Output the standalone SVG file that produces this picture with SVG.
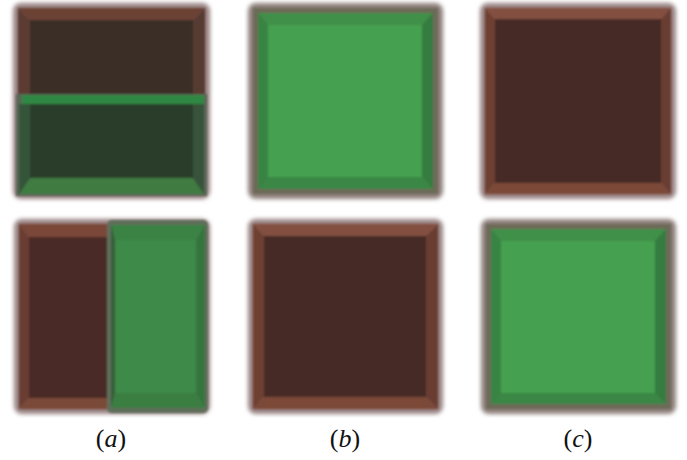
<svg xmlns="http://www.w3.org/2000/svg" width="687" height="460" viewBox="0 0 687 460">
<defs>
<filter id="halo" x="-10%" y="-10%" width="120%" height="120%"><feGaussianBlur stdDeviation="2.2"/></filter>
<filter id="soft" x="-5%" y="-5%" width="110%" height="110%"><feGaussianBlur stdDeviation="1.1"/></filter>
</defs>
<style>
.lbl{font-family:"Liberation Serif","Times New Roman",serif;font-size:26px;fill:#111;text-anchor:middle}
.it{font-style:italic}
.h{filter:url(#halo)}
</style>
<rect width="687" height="460" fill="#fff"/>

<!-- (a) top -->
<g id="a-top">
<rect class="h" x="13" y="3" width="197" height="196" rx="8" fill="#978181"/>
<g filter="url(#soft)">
<polygon points="18,8 205,8 193,20 30,20" fill="#6c4234"/>
<polygon points="18,8 30,20 30,100 18,100" fill="#5b3a30"/>
<polygon points="205,8 193,20 193,100 205,100" fill="#573a30"/>
<rect x="30" y="20" width="163" height="80" fill="#3a2d26"/>
<rect x="16" y="94" width="191" height="102" fill="#5a6656"/>
<polygon points="19,104 204,104 204,194 19,194" fill="#3d5a3a"/>
<polygon points="19,194 204,194 193,178 30,178" fill="#3f7c42"/>
<polygon points="19,104 30,104 30,178 19,194" fill="#36543a"/>
<polygon points="204,104 193,104 193,178 204,194" fill="#37533b"/>
<rect x="30" y="104" width="163" height="74" fill="#2a3d29"/>
<rect x="22" y="95" width="182" height="9" fill="#2f8742"/>
</g>
</g>

<!-- (a) bottom -->
<g id="a-bottom">
<rect class="h" x="14" y="219" width="196" height="195" rx="8" fill="#978181"/>
<g filter="url(#soft)">
<polygon points="19,224 110,224 110,237 29,237" fill="#7a4637"/>
<polygon points="19,224 29,237 29,398 19,409" fill="#6a3d31"/>
<polygon points="19,409 110,409 110,398 29,398" fill="#7a4838"/>
<rect x="29" y="237" width="81" height="161" fill="#4a2c25"/>
<rect x="107" y="220" width="101" height="193" rx="5" fill="#5f6e5a"/>
<polygon points="111,225 205,225 196,240 115,240" fill="#3b8244"/>
<polygon points="111,225 115,240 115,393 111,408" fill="#345e37"/>
<polygon points="205,225 196,240 196,393 205,408" fill="#35743e"/>
<polygon points="111,408 205,408 196,393 115,393" fill="#3a7e43"/>
<rect x="115" y="240" width="81" height="153" fill="#3d8a49"/>
</g>
</g>

<!-- (b) top -->
<g id="b-top">
<rect class="h" x="248" y="3" width="195" height="196" rx="8" fill="#8d7f7a"/>
<g filter="url(#soft)">
<rect x="253" y="8" width="185" height="186" fill="#6d6a58"/>
<polygon points="258,13 433,13 422,25 268,25" fill="#3f9048"/>
<polygon points="258,13 268,25 268,177 258,189" fill="#388443"/>
<polygon points="433,13 422,25 422,177 433,189" fill="#347c40"/>
<polygon points="258,189 433,189 422,177 268,177" fill="#3a8745"/>
<rect x="268" y="25" width="154" height="152" fill="#44a050"/>
</g>
</g>

<!-- (b) bottom -->
<g id="b-bottom">
<rect class="h" x="248" y="219" width="195" height="195" rx="8" fill="#978181"/>
<g filter="url(#soft)">
<polygon points="253,224 438,224 426,236 264,236" fill="#83503f"/>
<polygon points="253,224 264,236 264,397 253,409" fill="#6e3f32"/>
<polygon points="438,224 426,236 426,397 438,409" fill="#693c30"/>
<polygon points="253,409 438,409 426,397 264,397" fill="#7b4838"/>
<rect x="264" y="236" width="162" height="161" fill="#452b25"/>
</g>
</g>

<!-- (c) top -->
<g id="c-top">
<rect class="h" x="480" y="3" width="196" height="196" rx="8" fill="#978181"/>
<g filter="url(#soft)">
<polygon points="485,8 671,8 661,19 495,19" fill="#83503f"/>
<polygon points="485,8 495,19 495,183 485,194" fill="#6e3f32"/>
<polygon points="671,8 661,19 661,183 671,194" fill="#693c30"/>
<polygon points="485,194 671,194 661,183 495,183" fill="#7b4838"/>
<rect x="495" y="19" width="166" height="164" fill="#452b25"/>
</g>
</g>

<!-- (c) bottom -->
<g id="c-bottom">
<rect class="h" x="481" y="219" width="195" height="195" rx="8" fill="#8d7f7a"/>
<g filter="url(#soft)">
<rect x="486" y="224" width="185" height="185" fill="#6d6a58"/>
<polygon points="491,229 666,229 655,241 501,241" fill="#3f9048"/>
<polygon points="491,229 501,241 501,393 491,404" fill="#388443"/>
<polygon points="666,229 655,241 655,393 666,404" fill="#347c40"/>
<polygon points="491,404 666,404 655,393 501,393" fill="#3a8745"/>
<rect x="501" y="241" width="154" height="152" fill="#44a050"/>
</g>
</g>

<g id="labels">
<text class="lbl" x="111" y="447">(<tspan class="it">a</tspan>)</text>
<text class="lbl" x="345" y="447">(<tspan class="it">b</tspan>)</text>
<text class="lbl" x="578" y="447">(<tspan class="it">c</tspan>)</text>
</g>
</svg>
